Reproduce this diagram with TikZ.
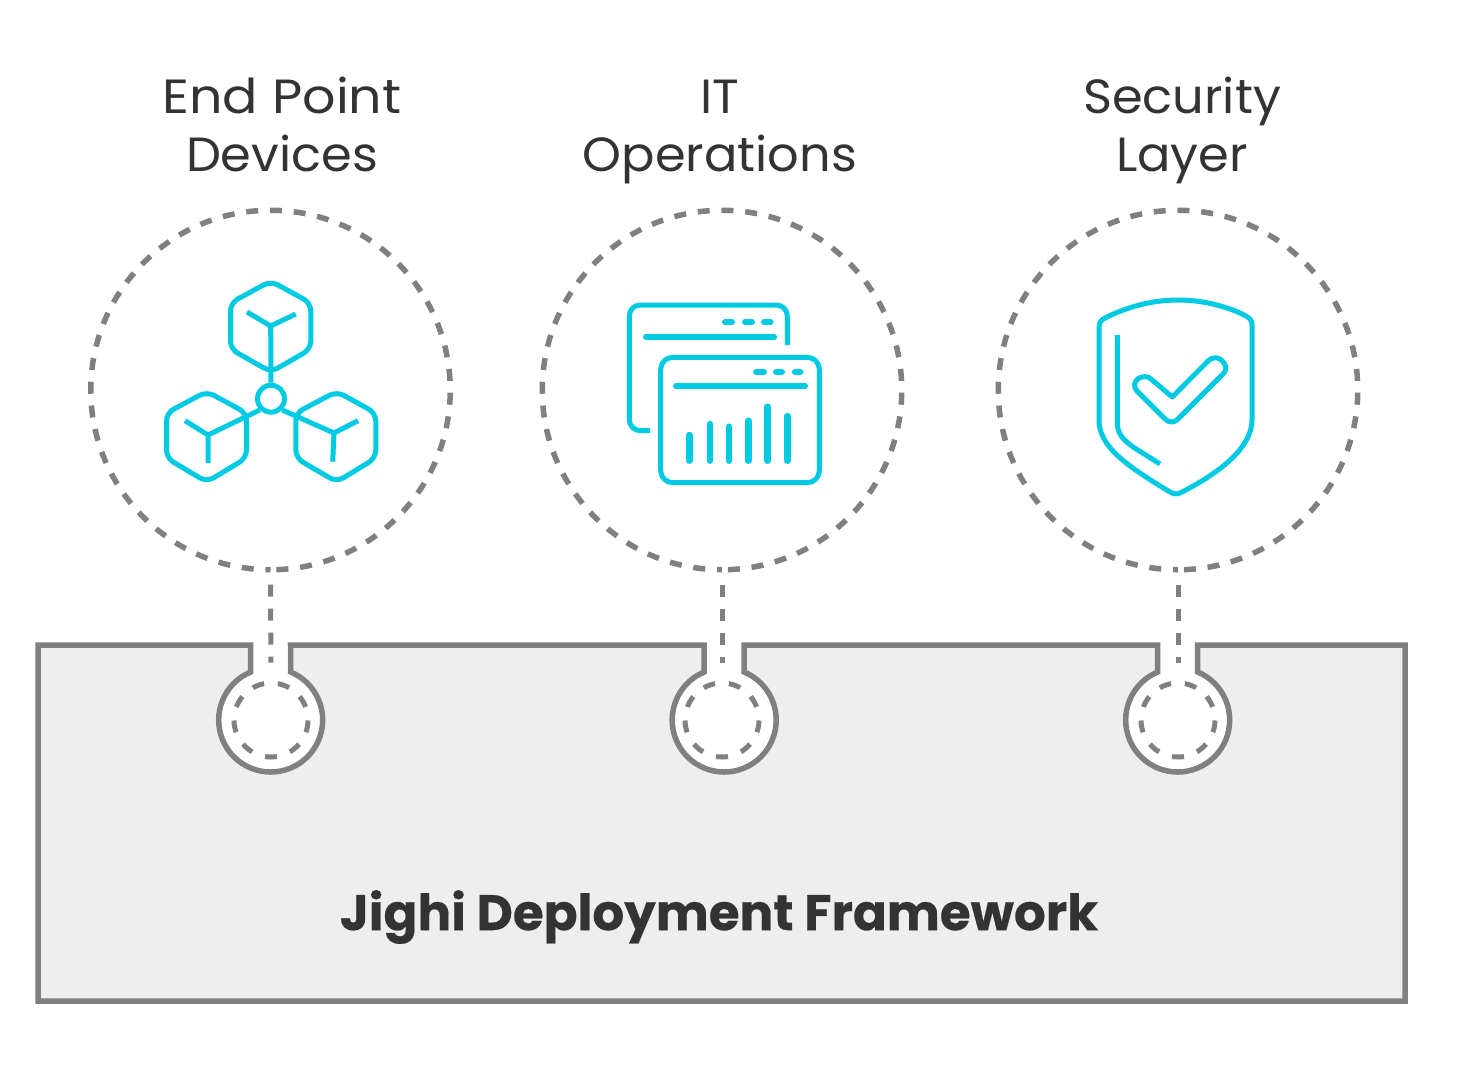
\documentclass[tikz,border=0pt]{standalone}
\usepackage{fontspec}
\setmainfont[BoldFeatures={FakeBold=0.35}]{Poppins}
\newfontfamily\headfont[FakeStretch=1.03]{Poppins}
\newfontfamily\headwide[FakeStretch=1.09]{Poppins}
\definecolor{iconc}{HTML}{00CBE2}
\definecolor{linec}{HTML}{808080}
\definecolor{panelc}{HTML}{EEEEEE}
\definecolor{textc}{HTML}{333333}
\newcommand{\linestrut}{\rule[-15pt]{0pt}{55pt}}
\tikzset{
  icon/.style={draw=iconc,line width=5pt,line join=round},
  pill/.style={draw=iconc,line width=6pt,line cap=round},
  bar/.style={draw=iconc,line width=6.5pt,line cap=round},
  bigring/.style={circle,draw=linec,line width=5.5pt,minimum size=359.5pt,inner sep=0pt,dash pattern=on 12pt off 11.8pt,dash phase=17.9pt,rotate=-90},
  smallring/.style={circle,draw=linec,line width=5pt,minimum size=74pt,inner sep=0pt,dash pattern=on 12pt off 13.83pt,dash phase=6pt,rotate=-90},
  link/.style={draw=linec,line width=5pt,dash pattern=on 12pt off 12pt,shorten <=12pt,shorten >=18pt},
  panelline/.style={draw=linec,line width=5.5pt,fill=panelc,line join=miter},
  head/.style={align=center,text=textc,inner sep=0pt,font=\headfont\fontsize{48}{58}\selectfont},
  title/.style={text=textc,font=\fontsize{50}{60}\selectfont\bfseries},
}
\begin{document}
\begin{tikzpicture}[x=1pt,y=-1pt]
\useasboundingbox (0,0) rectangle (1460,1080);
\fill[white] (0,0) rectangle (1460,1080);
% panel with keyholes
\begin{scope}[y=1pt]
\path[panelline] (38,-645) -- (250.7,-645) -- (250.7,-672) arc[start angle=112.6,end angle=427.4,radius=52pt] -- (290.5,-645)
  -- (704.2,-645) -- (704.2,-672) arc[start angle=112.6,end angle=427.4,radius=52pt] -- (744.2,-645)
  -- (1157.7,-645) -- (1157.7,-672) arc[start angle=112.6,end angle=427.4,radius=52pt] -- (1197.7,-645)
  -- (1405,-645) -- (1405,-1001) -- (38,-1001) -- cycle;
\end{scope}
% rings
\node[bigring] (ringa) at (270.5,390) {};
\node[bigring] (ringb) at (722,390) {};
\node[bigring] (ringc) at (1178,390) {};
\node[smallring] (holea) at (271,720) {};
\node[smallring] (holeb) at (722,720) {};
\node[smallring] (holec) at (1178,720) {};
\draw[link] (ringa.east) -- (holea.west);
\draw[link] (ringb.east) -- (holeb.west);
\draw[link] (ringc.east) -- (holec.west);
% texts
\node[head] (labela) at (282,130) {\headwide\linestrut End Point\\\headfont\linestrut Devices};
\node[head] (labelb) at (720,130) {\linestrut IT\\\linestrut Operations};
\node[head] (labelc) at (1182,130) {\linestrut Security\\\linestrut Layer};
\node[title] (framework) at (719,917) {Jighi Deployment Framework};
% cubes
\begin{scope}[rounded corners=8pt]
\draw[icon] (270.7,281) -- (310.8,303) -- (310.8,349) -- (271,372) -- (230.5,349) -- (230.5,303) -- cycle;
\draw[icon] (206.7,391.5) -- (246.5,413) -- (246.5,458) -- (206.7,482) -- (166.5,458) -- (166.5,413) -- cycle;
\draw[icon] (336.7,391.5) -- (375.8,413) -- (375.8,458) -- (336.7,482) -- (295.8,458) -- (295.8,413) -- cycle;
\end{scope}
\node[circle,draw=iconc,line width=5pt,minimum size=27pt,inner sep=0pt] (hub) at (271,398.7) {};
\draw[icon] (247,312) -- (270.7,326) -- (295.7,314) (270.7,326) -- (hub.north);
\draw[icon] (185,420.7) -- (208,435) -- (208,463) (208,435) -- (hub.south west);
\draw[icon] (358,420.7) -- (334,433) -- (332.7,461.7) (334,433) -- (hub.south east);
% windows
\draw[icon,rounded corners=11pt] (650,430.7) -- (629.3,430.7) -- (629.3,305) -- (787.3,305) -- (787.3,345);
\draw[icon,rounded corners=12pt] (660.7,357.3) rectangle (819.3,482.7);
\draw[pill] (725,322.3) -- (732,322.3) (745,322.3) -- (752,322.3) (764,322.3) -- (770.5,322.3);
\draw[pill] (646,337) -- (774,337);
\draw[pill] (756,371.7) -- (764,371.7) (776,371.7) -- (782,371.7) (795,371.7) -- (800.5,371.7);
\draw[pill] (676,386) -- (805,386);
\draw[bar] (689.3,435) -- (689.3,460.7);
\draw[bar] (710,424) -- (710,460.7);
\draw[bar] (729,426.7) -- (729,460.7);
\draw[bar] (748.3,420.7) -- (748.3,460.7);
\draw[bar] (767.7,406.7) -- (767.7,460.7);
\draw[bar] (787.3,416) -- (787.3,460.7);
% shield
\draw[icon] (1099,328) .. controls (1099,322) and (1101,320) .. (1106,317.5) .. controls (1125,308) and (1150,300) .. (1178,300) .. controls (1206,300) and (1231,308) .. (1246,316) .. controls (1251,319) and (1252,321) .. (1252,326) -- (1252,420) .. controls (1252,445) and (1225,470) .. (1182,492) .. controls (1178,494.5) and (1174,494.5) .. (1170,492) .. controls (1127,466) and (1099,447) .. (1099,420) -- cycle;
\draw[icon] (1117.3,335) -- (1117.3,423) .. controls (1117.3,435) and (1125,441) .. (1133,447) -- (1160,464);
\draw[icon] (1172.3,397) -- (1208,361) .. controls (1214,355) and (1221,358) .. (1224,363) .. controls (1227,367) and (1226,371) .. (1223,374) -- (1178,419) .. controls (1174,423) and (1169,423) .. (1165,419) -- (1137,391) .. controls (1133,387) and (1134,381) .. (1139,378) .. controls (1143,376) and (1148,376) .. (1151,379) -- cycle;
\end{tikzpicture}
\end{document}
